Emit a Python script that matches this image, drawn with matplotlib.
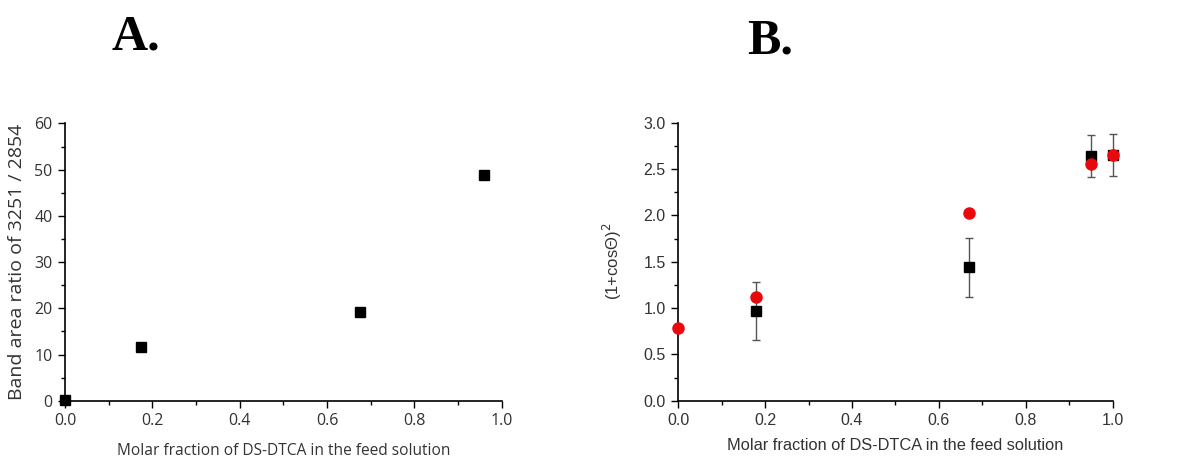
import matplotlib.pyplot as plt
from matplotlib.ticker import MultipleLocator

# panel A data
a_x = [0.0, 0.175, 0.675, 0.96]
a_y = [0.1, 11.7, 19.2, 48.9]

# panel B data
b_sq_x = [0.18, 0.67, 0.95, 1.0]
b_sq_y = [0.97, 1.44, 2.64, 2.65]
b_sq_err = [0.31, 0.32, 0.23, 0.23]
b_ci_x = [0.0, 0.18, 0.67, 0.95, 1.0]
b_ci_y = [0.78, 1.12, 2.03, 2.55, 2.65]

xlabel = "Molar fraction of DS-DTCA in the feed solution"

fig = plt.figure(figsize=(12.03, 4.57), dpi=100)


def style_axes(ax, ymax, ymajor, yminor, font, xsize, xpad):
    ax.set_xlim(0, 1.0)
    ax.set_ylim(0, ymax)
    ax.spines["top"].set_visible(False)
    ax.spines["right"].set_visible(False)
    for s in ["left", "bottom"]:
        ax.spines[s].set_linewidth(1.2)
    ax.xaxis.set_major_locator(MultipleLocator(0.2))
    ax.xaxis.set_minor_locator(MultipleLocator(0.1))
    ax.yaxis.set_major_locator(MultipleLocator(ymajor))
    ax.yaxis.set_minor_locator(MultipleLocator(yminor))
    ax.tick_params(which="major", direction="out", length=5, width=1, labelsize=11.5,
                   labelcolor="#333333", pad=4)
    ax.tick_params(which="minor", direction="out", length=3, width=1)
    for lab in ax.get_xticklabels() + ax.get_yticklabels():
        lab.set_family(font)
    ax.set_xlabel(xlabel, fontsize=xsize, color="#333333", family=font, labelpad=xpad)


# A.
ax1 = fig.add_axes([0.054, 0.123, 0.363, 0.607])
ax1.plot(a_x, a_y, "s", color="black", markersize=7.5, clip_on=False, zorder=5)
style_axes(ax1, 60, 10, 5, "Open Sans", 11.2, 10)
ax1.xaxis.set_major_formatter(plt.FormatStrFormatter("%.1f"))
ax1.set_ylabel("Band area ratio of 3251 / 2854", fontsize=14, color="#333333",
               family="Open Sans", labelpad=6)

# B.
ax2 = fig.add_axes([0.5638, 0.123, 0.361, 0.6085])
ax2.errorbar(b_sq_x, b_sq_y, yerr=b_sq_err, fmt="s", color="black", ecolor="#555555",
             elinewidth=1, capsize=3, markersize=7.5, clip_on=False, zorder=4)
ax2.plot(b_ci_x, b_ci_y, "o", color="#e8090f", markersize=8, clip_on=False, zorder=5)
style_axes(ax2, 3.0, 0.5, 0.25, "Liberation Sans", 11.8, 7)
ax2.xaxis.set_major_formatter(plt.FormatStrFormatter("%.1f"))
ax2.yaxis.set_major_formatter(plt.FormatStrFormatter("%.1f"))
ax2.set_ylabel("(1+cos\u0398)$^2$", fontsize=12, color="#333333",
               family="Liberation Sans", labelpad=14)

fig.text(0.113, 0.868, "A.", fontsize=36, fontweight="bold", family="Liberation Serif",
         va="bottom", ha="center", transform=fig.transFigure)
fig.text(0.640, 0.858, "B.", fontsize=36, fontweight="bold", family="Liberation Serif",
         va="bottom", ha="center", transform=fig.transFigure)

fig.savefig("out.png", dpi=100)
